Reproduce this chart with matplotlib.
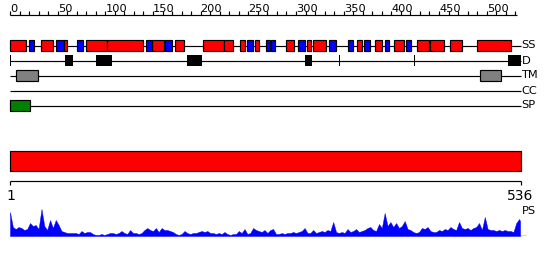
import matplotlib
matplotlib.use("Agg")
import matplotlib.pyplot as plt
from matplotlib.patches import Rectangle

# ---------------- data ----------------
seq_len = 536
helix = [(1, 17), (33, 45), (58, 60), (81, 102), (103, 140), (150, 162), (174, 182),
         (203, 224), (225, 234), (242, 247), (258, 261), (290, 298), (313, 316),
         (319, 331), (365, 369), (384, 390), (404, 413), (428, 439), (442, 455),
         (462, 474), (491, 525)]
strand = [(21, 25), (49, 57), (71, 77), (144, 149), (164, 170), (250, 255), (269, 273),
          (275, 278), (303, 309), (336, 342), (355, 360), (372, 378), (394, 398), (416, 421)]
disorder = [(1, 1), (59, 66), (91, 107), (187, 201), (310, 317), (346, 346), (425, 425),
            (523, 536)]
tm = [(7, 29), (494, 515)]
cc = []
sp = [(1, 21)]
domains = [(1, 536)]
track_labels = ["SS", "D", "TM", "CC", "SP"]
ruler_ticks = list(range(0, 531, 10))
ruler_labels = list(range(0, 501, 50))
ps_step = 3
ps_values = [24, 9, 7, 9, 8, 6, 7, 13, 10, 11, 7, 27, 10, 6, 16, 8, 16, 11, 5, 4,
             3, 3, 3, 3, 2, 5, 3, 4, 4, 2, 1, 1, 2, 1, 2, 3, 3, 2, 3, 5,
             3, 2, 6, 3, 3, 2, 3, 6, 8, 6, 5, 8, 4, 8, 6, 6, 5, 4, 2, 1,
             2, 5, 3, 2, 3, 3, 4, 5, 4, 5, 3, 3, 2, 3, 2, 4, 2, 1, 2, 2,
             5, 3, 7, 2, 3, 8, 6, 5, 4, 6, 3, 6, 7, 2, 2, 3, 2, 3, 3, 4,
             3, 4, 5, 8, 3, 3, 6, 3, 4, 5, 4, 6, 5, 14, 4, 3, 4, 3, 7, 4,
             5, 7, 4, 5, 6, 8, 9, 6, 5, 12, 8, 23, 10, 14, 9, 13, 8, 10, 15, 7,
             6, 4, 3, 4, 8, 7, 9, 5, 4, 4, 6, 5, 7, 6, 9, 7, 6, 14, 8, 7,
             8, 6, 8, 9, 13, 6, 19, 7, 6, 6, 5, 6, 5, 6, 5, 5, 4, 13, 17, 15]

# ---------------- layout ----------------
W, H = 550, 260
x_left_px, px_per_res = 10.0, 0.9534


def px2res(px):
    return (px - x_left_px) / px_per_res


fig = plt.figure(figsize=(W / 100, H / 100), dpi=100)
fig.patch.set_facecolor("white")
ax = fig.add_axes([0, 0, 1, 1])
ax.set_xlim(px2res(0), px2res(W))
ax.set_ylim(H, 0)
ax.axis("off")

LW = 0.85
FS = 8.2
end = seq_len

# top ruler
ruler_y = 14.5
ax.plot([0, 531.5], [ruler_y, ruler_y], color="black", lw=LW, solid_capstyle="butt")
for t in ruler_ticks:
    ax.plot([t, t], [ruler_y, ruler_y - 4], color="black", lw=LW, solid_capstyle="butt")
for t in ruler_labels:
    ax.text(t, 12.3, str(t), ha="left", va="baseline", fontsize=FS, color="black")

row_y = {"SS": 45.5, "D": 60.5, "TM": 75.5, "CC": 90.5, "SP": 105.5}
box_h = 10.5

for name in track_labels:
    y = row_y[name]
    ax.plot([0, end], [y, y], color="black", lw=LW, solid_capstyle="butt", zorder=1)
    ax.text(end + 0.5, y, name, ha="left", va="center", fontsize=FS, color="black")


def draw_boxes(segs, y, color, edge=True):
    for s, e in segs:
        if edge:
            ax.add_patch(Rectangle((s - 1, y - box_h / 2), e - s + 1, box_h,
                                   facecolor=color, edgecolor="black", lw=LW, zorder=3))
        else:
            ax.add_patch(Rectangle((s - 1, y - box_h / 2), e - s + 1, box_h,
                                   facecolor=color, edgecolor="none", lw=0, zorder=3))


draw_boxes(helix, row_y["SS"], "#ff0000")
draw_boxes(strand, row_y["SS"], "#0000ff")
draw_boxes(disorder, row_y["D"], "black", edge=False)
draw_boxes(tm, row_y["TM"], "#808080")
draw_boxes(cc, row_y["CC"], "#ffa500")
draw_boxes(sp, row_y["SP"], "#008000")

# domain bar
for s, e in domains:
    ax.add_patch(Rectangle((s - 1, 150.5), e - s + 1, 20, facecolor="#ff0000",
                           edgecolor="black", lw=LW, zorder=3))

# bottom ruler
by = 180.5
ax.plot([0, end], [by, by], color="black", lw=LW, solid_capstyle="butt")
ax.plot([0, 0], [by, by + 4], color="black", lw=LW, solid_capstyle="butt")
ax.plot([end, end], [by, by + 4], color="black", lw=LW, solid_capstyle="butt")
ax.text(0.8, 195.5, "1", ha="center", va="center", fontsize=10, color="black")
ax.text(end - 0.5, 195.5, str(seq_len), ha="center", va="center", fontsize=10, color="black")
ax.text(end + 0.5, 211, "PS", ha="left", va="center", fontsize=FS, color="black")

# PS profile
base_px = 236.0
ps_top = 28.0
ax2 = fig.add_axes([0, (H - base_px) / H, 1, ps_top / H])
ax2.set_xlim(px2res(0), px2res(W))
ax2.set_ylim(0, ps_top)
ax2.axis("off")
xs = [1 + ps_step * i for i in range(len(ps_values) - 1)] + [seq_len]
xs = [x - 1 for x in xs]
ax2.fill_between(xs, 0, ps_values, color="#0000ff", lw=0.3, edgecolor="#0000ff")
ax2.plot([0, px2res(525.5)], [0.3, 0.3], color="#0000ff", lw=1.0, solid_capstyle="butt")

fig.savefig("out.png", dpi=100, facecolor="white")
